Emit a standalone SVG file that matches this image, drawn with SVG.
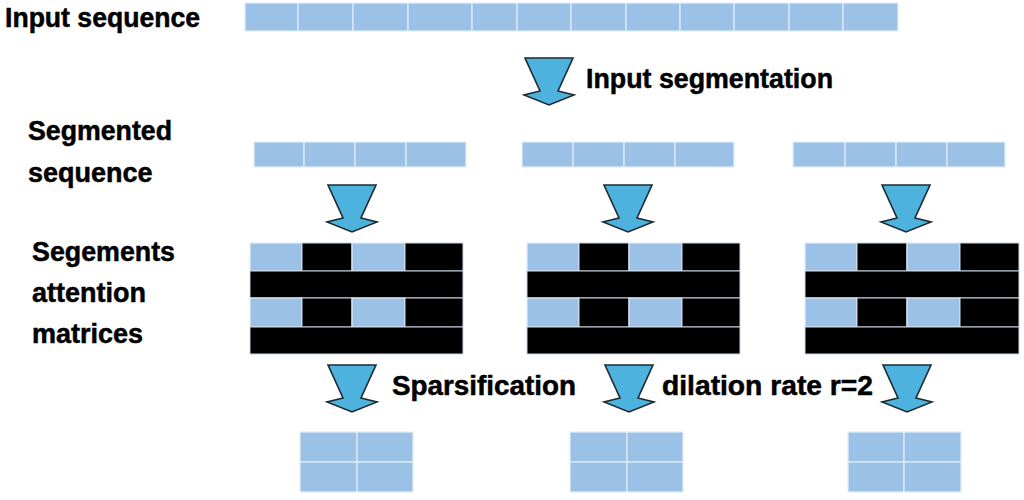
<svg xmlns="http://www.w3.org/2000/svg" xmlns:xlink="http://www.w3.org/1999/xlink" width="1024" height="500" viewBox="0 0 1024 500">
<style>
.lbl{font-family:"Liberation Sans",Arial,sans-serif;font-weight:bold;font-size:27px;fill:#000;stroke:#000;stroke-width:0.5}
.b{fill:#9BC2E6;stroke:#E3EDF8;stroke-width:1.2}
.k{fill:#000;stroke:#C8D6E4;stroke-width:1}
.arr{fill:#4DB3DE;stroke:#1E2A30;stroke-width:1.6;stroke-linejoin:miter}
</style>
<defs>
<path id="ar" d="M-24,0 L24,0 L9,33 L25,37 L0,47 L-25,37 L-9,33 Z"/>
</defs>
<rect width="1024" height="500" fill="#fff"/>

<g id="labels">
<text class="lbl" x="5" y="27" textLength="195" lengthAdjust="spacingAndGlyphs">Input sequence</text>
<text class="lbl" x="586" y="88" textLength="247" lengthAdjust="spacingAndGlyphs">Input segmentation</text>
<text class="lbl" x="28" y="140" textLength="144" lengthAdjust="spacingAndGlyphs">Segmented</text>
<text class="lbl" x="28" y="182">sequence</text>
<text class="lbl" x="32" y="261" textLength="143" lengthAdjust="spacingAndGlyphs">Segements</text>
<text class="lbl" x="32" y="302">attention</text>
<text class="lbl" x="32" y="343">matrices</text>
<text class="lbl" x="392" y="395" textLength="184" lengthAdjust="spacingAndGlyphs">Sparsification</text>
<text class="lbl" x="662" y="395" textLength="211" lengthAdjust="spacingAndGlyphs">dilation rate r=2</text>
</g>

<g id="input-sequence">
<rect class="b" x="245" y="3" width="53" height="28"/>
<rect class="b" x="298" y="3" width="55" height="28"/>
<rect class="b" x="353" y="3" width="55" height="28"/>
<rect class="b" x="408" y="3" width="64" height="28"/>
<rect class="b" x="472" y="3" width="45" height="28"/>
<rect class="b" x="517" y="3" width="54" height="28"/>
<rect class="b" x="571" y="3" width="55" height="28"/>
<rect class="b" x="626" y="3" width="54" height="28"/>
<rect class="b" x="680" y="3" width="54" height="28"/>
<rect class="b" x="734" y="3" width="55" height="28"/>
<rect class="b" x="789" y="3" width="54" height="28"/>
<rect class="b" x="843" y="3" width="55" height="28"/>
</g>

<g id="segment-1">
<rect class="b" x="254" y="142" width="50" height="25"/>
<rect class="b" x="304" y="142" width="51" height="25"/>
<rect class="b" x="355" y="142" width="51" height="25"/>
<rect class="b" x="406" y="142" width="60" height="25"/>
</g>
<g id="segment-2">
<rect class="b" x="522" y="142" width="51" height="25"/>
<rect class="b" x="573" y="142" width="51" height="25"/>
<rect class="b" x="624" y="142" width="51" height="25"/>
<rect class="b" x="675" y="142" width="59" height="25"/>
</g>
<g id="segment-3">
<rect class="b" x="793" y="142" width="52" height="25"/>
<rect class="b" x="845" y="142" width="51" height="25"/>
<rect class="b" x="896" y="142" width="51" height="25"/>
<rect class="b" x="947" y="142" width="58" height="25"/>
</g>

<g id="matrix-1">
<rect class="b" x="250" y="243" width="52" height="28"/>
<rect class="k" x="302" y="243" width="50" height="28"/>
<rect class="b" x="352" y="243" width="53" height="28"/>
<rect class="k" x="405" y="243" width="58" height="28"/>
<rect class="k" x="250" y="271" width="213" height="27"/>
<rect class="b" x="250" y="298" width="52" height="29"/>
<rect class="k" x="302" y="298" width="50" height="29"/>
<rect class="b" x="352" y="298" width="53" height="29"/>
<rect class="k" x="405" y="298" width="58" height="29"/>
<rect class="k" x="250" y="327" width="213" height="27"/>
</g>
<g id="matrix-2">
<rect class="b" x="527" y="243" width="52" height="28"/>
<rect class="k" x="579" y="243" width="50" height="28"/>
<rect class="b" x="629" y="243" width="53" height="28"/>
<rect class="k" x="682" y="243" width="58" height="28"/>
<rect class="k" x="527" y="271" width="213" height="27"/>
<rect class="b" x="527" y="298" width="52" height="29"/>
<rect class="k" x="579" y="298" width="50" height="29"/>
<rect class="b" x="629" y="298" width="53" height="29"/>
<rect class="k" x="682" y="298" width="58" height="29"/>
<rect class="k" x="527" y="327" width="213" height="27"/>
</g>
<g id="matrix-3">
<rect class="b" x="805" y="243" width="52" height="28"/>
<rect class="k" x="857" y="243" width="50" height="28"/>
<rect class="b" x="907" y="243" width="53" height="28"/>
<rect class="k" x="960" y="243" width="59" height="28"/>
<rect class="k" x="805" y="271" width="214" height="27"/>
<rect class="b" x="805" y="298" width="52" height="29"/>
<rect class="k" x="857" y="298" width="50" height="29"/>
<rect class="b" x="907" y="298" width="53" height="29"/>
<rect class="k" x="960" y="298" width="59" height="29"/>
<rect class="k" x="805" y="327" width="214" height="27"/>
</g>

<g id="sparse-1">
<rect class="b" x="300" y="432" width="57" height="30"/>
<rect class="b" x="357" y="432" width="56" height="30"/>
<rect class="b" x="300" y="462" width="57" height="30"/>
<rect class="b" x="357" y="462" width="56" height="30"/>
</g>
<g id="sparse-2">
<rect class="b" x="570" y="432" width="57" height="30"/>
<rect class="b" x="627" y="432" width="56" height="30"/>
<rect class="b" x="570" y="462" width="57" height="30"/>
<rect class="b" x="627" y="462" width="56" height="30"/>
</g>
<g id="sparse-3">
<rect class="b" x="848" y="432" width="56" height="30"/>
<rect class="b" x="904" y="432" width="57" height="30"/>
<rect class="b" x="848" y="462" width="56" height="30"/>
<rect class="b" x="904" y="462" width="57" height="30"/>
</g>

<g id="connectors">
<use xlink:href="#ar" href="#ar" class="arr" transform="translate(549,58)"/>
<use xlink:href="#ar" href="#ar" class="arr" transform="translate(352,185)"/>
<use xlink:href="#ar" href="#ar" class="arr" transform="translate(628,185)"/>
<use xlink:href="#ar" href="#ar" class="arr" transform="translate(906,185)"/>
<use xlink:href="#ar" href="#ar" class="arr" transform="translate(352,365)"/>
<use xlink:href="#ar" href="#ar" class="arr" transform="translate(629,365)"/>
<use xlink:href="#ar" href="#ar" class="arr" transform="translate(907,365)"/>
</g>
</svg>
